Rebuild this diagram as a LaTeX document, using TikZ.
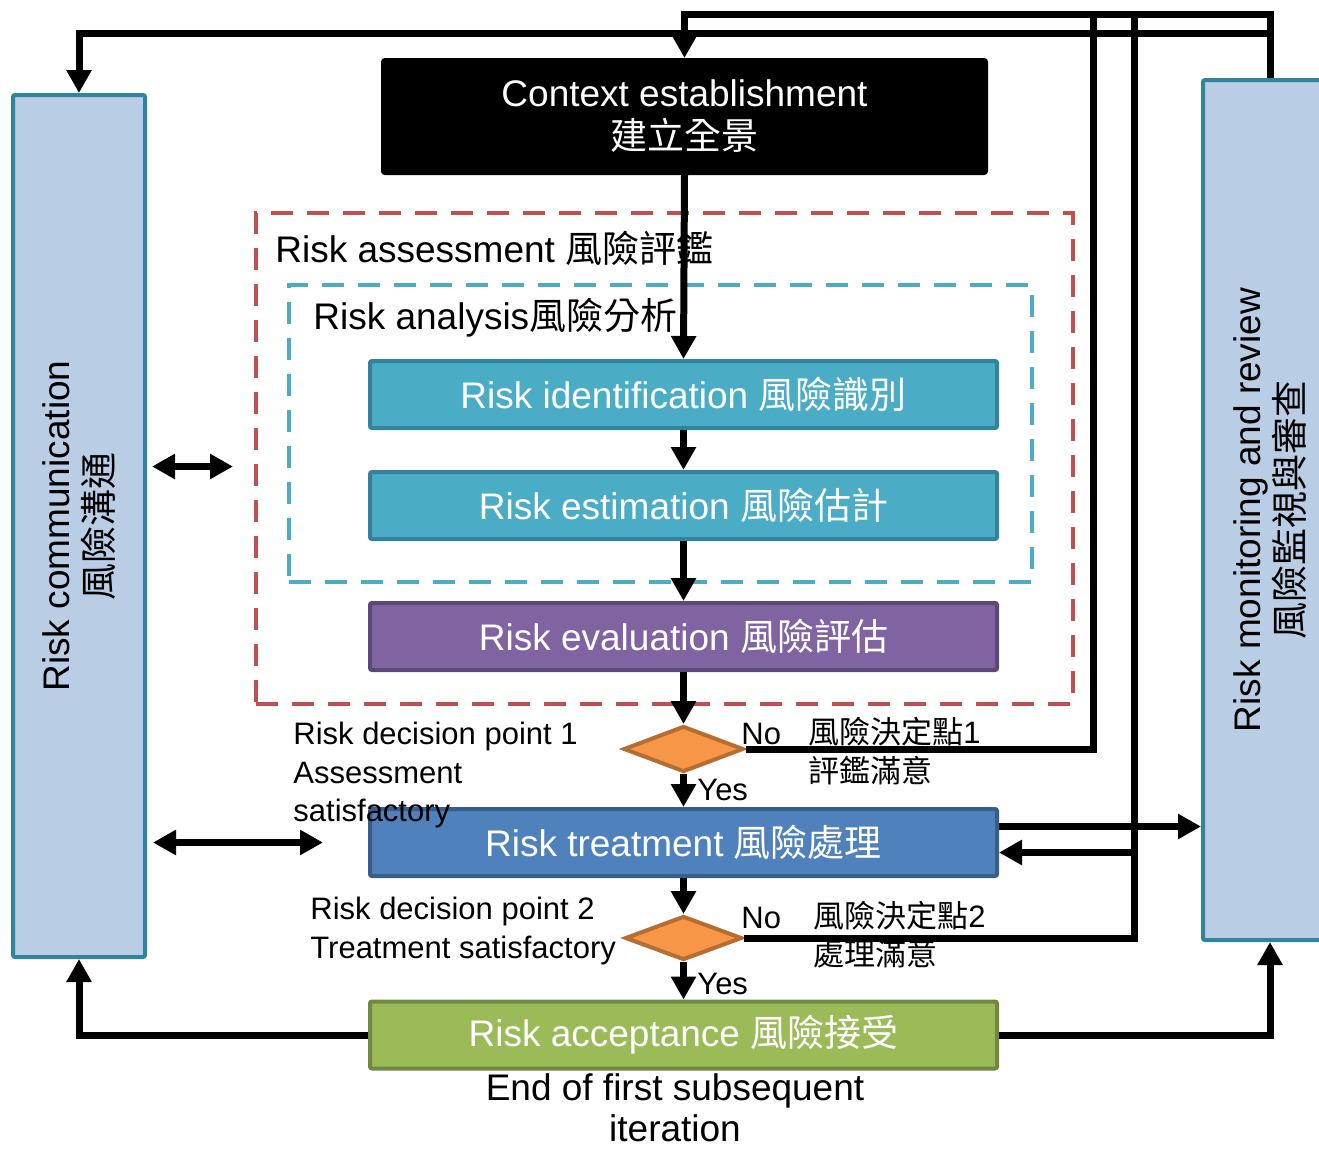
\documentclass[tikz,border=0pt]{standalone}
\usepackage{fontspec}
\setmainfont{Liberation Sans}
\newfontfamily\cjk{Noto Sans CJK TC}
\newcommand{\zh}[1]{{\cjk #1}}
\usetikzlibrary{shapes.geometric,arrows.meta,positioning,calc}

\definecolor{identfill}{HTML}{4BACC6}
\definecolor{identline}{HTML}{31849B}
\definecolor{evalfill}{HTML}{8064A2}
\definecolor{evalline}{HTML}{5C4776}
\definecolor{treatfill}{HTML}{4F81BD}
\definecolor{treatline}{HTML}{385D8A}
\definecolor{acceptfill}{HTML}{9BBB59}
\definecolor{acceptline}{HTML}{71893F}
\definecolor{decfill}{HTML}{F79646}
\definecolor{decline}{HTML}{B66D31}
\definecolor{sidefill}{HTML}{B9CDE5}
\definecolor{sideline}{HTML}{31849B}
\definecolor{redframe}{HTML}{C0504D}
\definecolor{blueframe}{HTML}{4BACC6}

\begin{document}
\begin{tikzpicture}[x=0.5pt,y=-0.5pt,
    big/.style={font=\fontsize{18.5}{21.5}\selectfont},
    small/.style={font=\fontsize{15.5}{19.25}\selectfont},
    procbox/.style={draw,line width=2pt,rounded corners=1pt,minimum width=313.5pt,minimum height=33.5pt,text=white,big},
    sidebox/.style={draw=sideline,fill=sidefill,line width=2pt,rounded corners=1pt},
    frame/.style={dash pattern=on 11pt off 7pt,line width=2pt},
    decision/.style={diamond,draw=decline,fill=decfill,line width=2pt,inner sep=0pt},
    label/.style={inner sep=0pt},
    line/.style={line width=3.5pt},
    flow/.style={line width=3.5pt,-{Triangle[length=11.5pt,width=12pt]}},
    dflow/.style={line width=3.5pt,{Triangle[length=11.5pt,width=12pt]}-{Triangle[length=11.5pt,width=12pt]}}]
    \useasboundingbox (0,0) rectangle (1319,1148);

    % Assessment and analysis frames
    \node[frame,draw=redframe,minimum width=408.5pt,minimum height=245.5pt] (assess) at (664.5,458.5) {};
    \node[frame,draw=blueframe,minimum width=371.5pt,minimum height=148.5pt] (analysis) at (660.5,433.5) {};
    \node[big,label,anchor=west] (lblassess) at (275,248) {Risk assessment \zh{風險評鑑}};
    \node[big,label,anchor=west] (lblanalysis) at (313,318) {Risk analysis\zh{風險分析}};

    % Side boxes
    \node[sidebox,minimum width=66pt,minimum height=431pt] (comm) at (79,526) {};
    \node[sidebox,minimum width=67pt,minimum height=430pt] (monitor) at (1270,510) {};
    \node[big,rotate=90,align=center] (lblcomm) at (comm.center) {Risk communication\\\zh{風險溝通}};
    \node[big,rotate=90,align=center] (lblmonitor) at (monitor.center) {Risk monitoring and review\\\zh{風險監視與審查}};

    % Process boxes
    \node[procbox,draw=black,fill=black,align=center,minimum width=301.5pt,minimum height=56.5pt] (context) at (684.5,116.5) {Context establishment\\\zh{建立全景}};
    \node[procbox,draw=identline,fill=identfill] (ident) at (683.5,394.5) {Risk identification \zh{風險識別}};
    \node[procbox,draw=identline,fill=identfill] (estim) at (683.5,505.5) {Risk estimation \zh{風險估計}};
    \node[procbox,draw=evalline,fill=evalfill] (evalu) at (683.5,636.5) {Risk evaluation \zh{風險評估}};
    \node[decision,minimum width=60pt,minimum height=23pt] (dp1) at (683.5,749) {};
    \node[procbox,draw=treatline,fill=treatfill] (treat) at (683.5,842.5) {Risk treatment \zh{風險處理}};
    \node[decision,minimum width=58.5pt,minimum height=22pt] (dp2) at (683.5,938) {};
    \node[procbox,draw=acceptline,fill=acceptfill] (accept) at (683.5,1035) {Risk acceptance \zh{風險接受}};

    % Decision labels
    \node[small,label,align=left,anchor=west] (lbldp1) at (293,775) {Risk decision point 1\\Assessment\\satisfactory};
    \node[small,label,anchor=west] (no1) at (741,734) {No};
    \node[small,label,anchor=west] (yes1) at (697,790) {Yes};
    \node[small,label,align=left,anchor=west] (zhdp1) at (808,751) {\zh{風險決定點}1\\\zh{評鑑滿意}};
    \node[small,label,align=left,anchor=west] (lbldp2) at (310,931) {Risk decision point 2\\Treatment satisfactory};
    \node[small,label,anchor=west] (no2) at (741,918) {No};
    \node[small,label,anchor=west] (yes2) at (697,984) {Yes};
    \node[small,label,align=left,anchor=west] (zhdp2) at (813,934.5) {\zh{風險決定點}2\\\zh{處理滿意}};
    \node[big,label,align=center,font=\fontsize{18.5}{20.5}\selectfont] (lblend) at (675,1108) {End of first subsequent\\iteration};

    % Main flow
    \draw[flow] (context.south) -- (ident.north);
    \draw[flow] (ident.south) -- (estim.north);
    \draw[flow] (estim.south) -- (evalu.north);
    \draw[flow] (evalu.south) -- (dp1.north);
    \draw[flow] (dp1.south) -- (treat.north);
    \draw[flow] (treat.south) -- (dp2.north);
    \draw[flow] (dp2.south) -- (accept.north);

    % Feedback lines along the top
    \coordinate (bus1) at (1093,14);
    \coordinate (bus2) at (1134,14);
    \coordinate (bus3) at (1270,14);
    \coordinate (bus4) at (1270,33);
    \draw[flow] (dp1.east) -| (bus1) -| (context.north);
    \draw[line] (dp2.east) -| (bus2);
    \draw[line] (monitor.north) -- (bus3) -- (bus1);
    \draw[flow] (bus4) -| (comm.north);

    % Treatment and monitoring
    \draw[flow] ($(treat.east)+(0,-16)$) -- ($(monitor.west |- treat.east)+(0,-16)$);
    \draw[flow] ($(bus2 |- treat.east)+(0,10)$) -- ($(treat.east)+(0,10)$);
    \draw[flow] (accept.west) -| (comm.south);
    \draw[flow] (accept.east) -| (monitor.south);

    % Communication arrows
    \draw[dflow,shorten <=2.5pt,shorten >=10.5pt] ($(comm.east |- assess.west)+(0,8)$) -- ($(assess.west)+(0,8)$);
    \draw[dflow,shorten <=3pt,shorten >=22.5pt] (comm.east |- treat.west) -- (treat.west);
\end{tikzpicture}
\end{document}
